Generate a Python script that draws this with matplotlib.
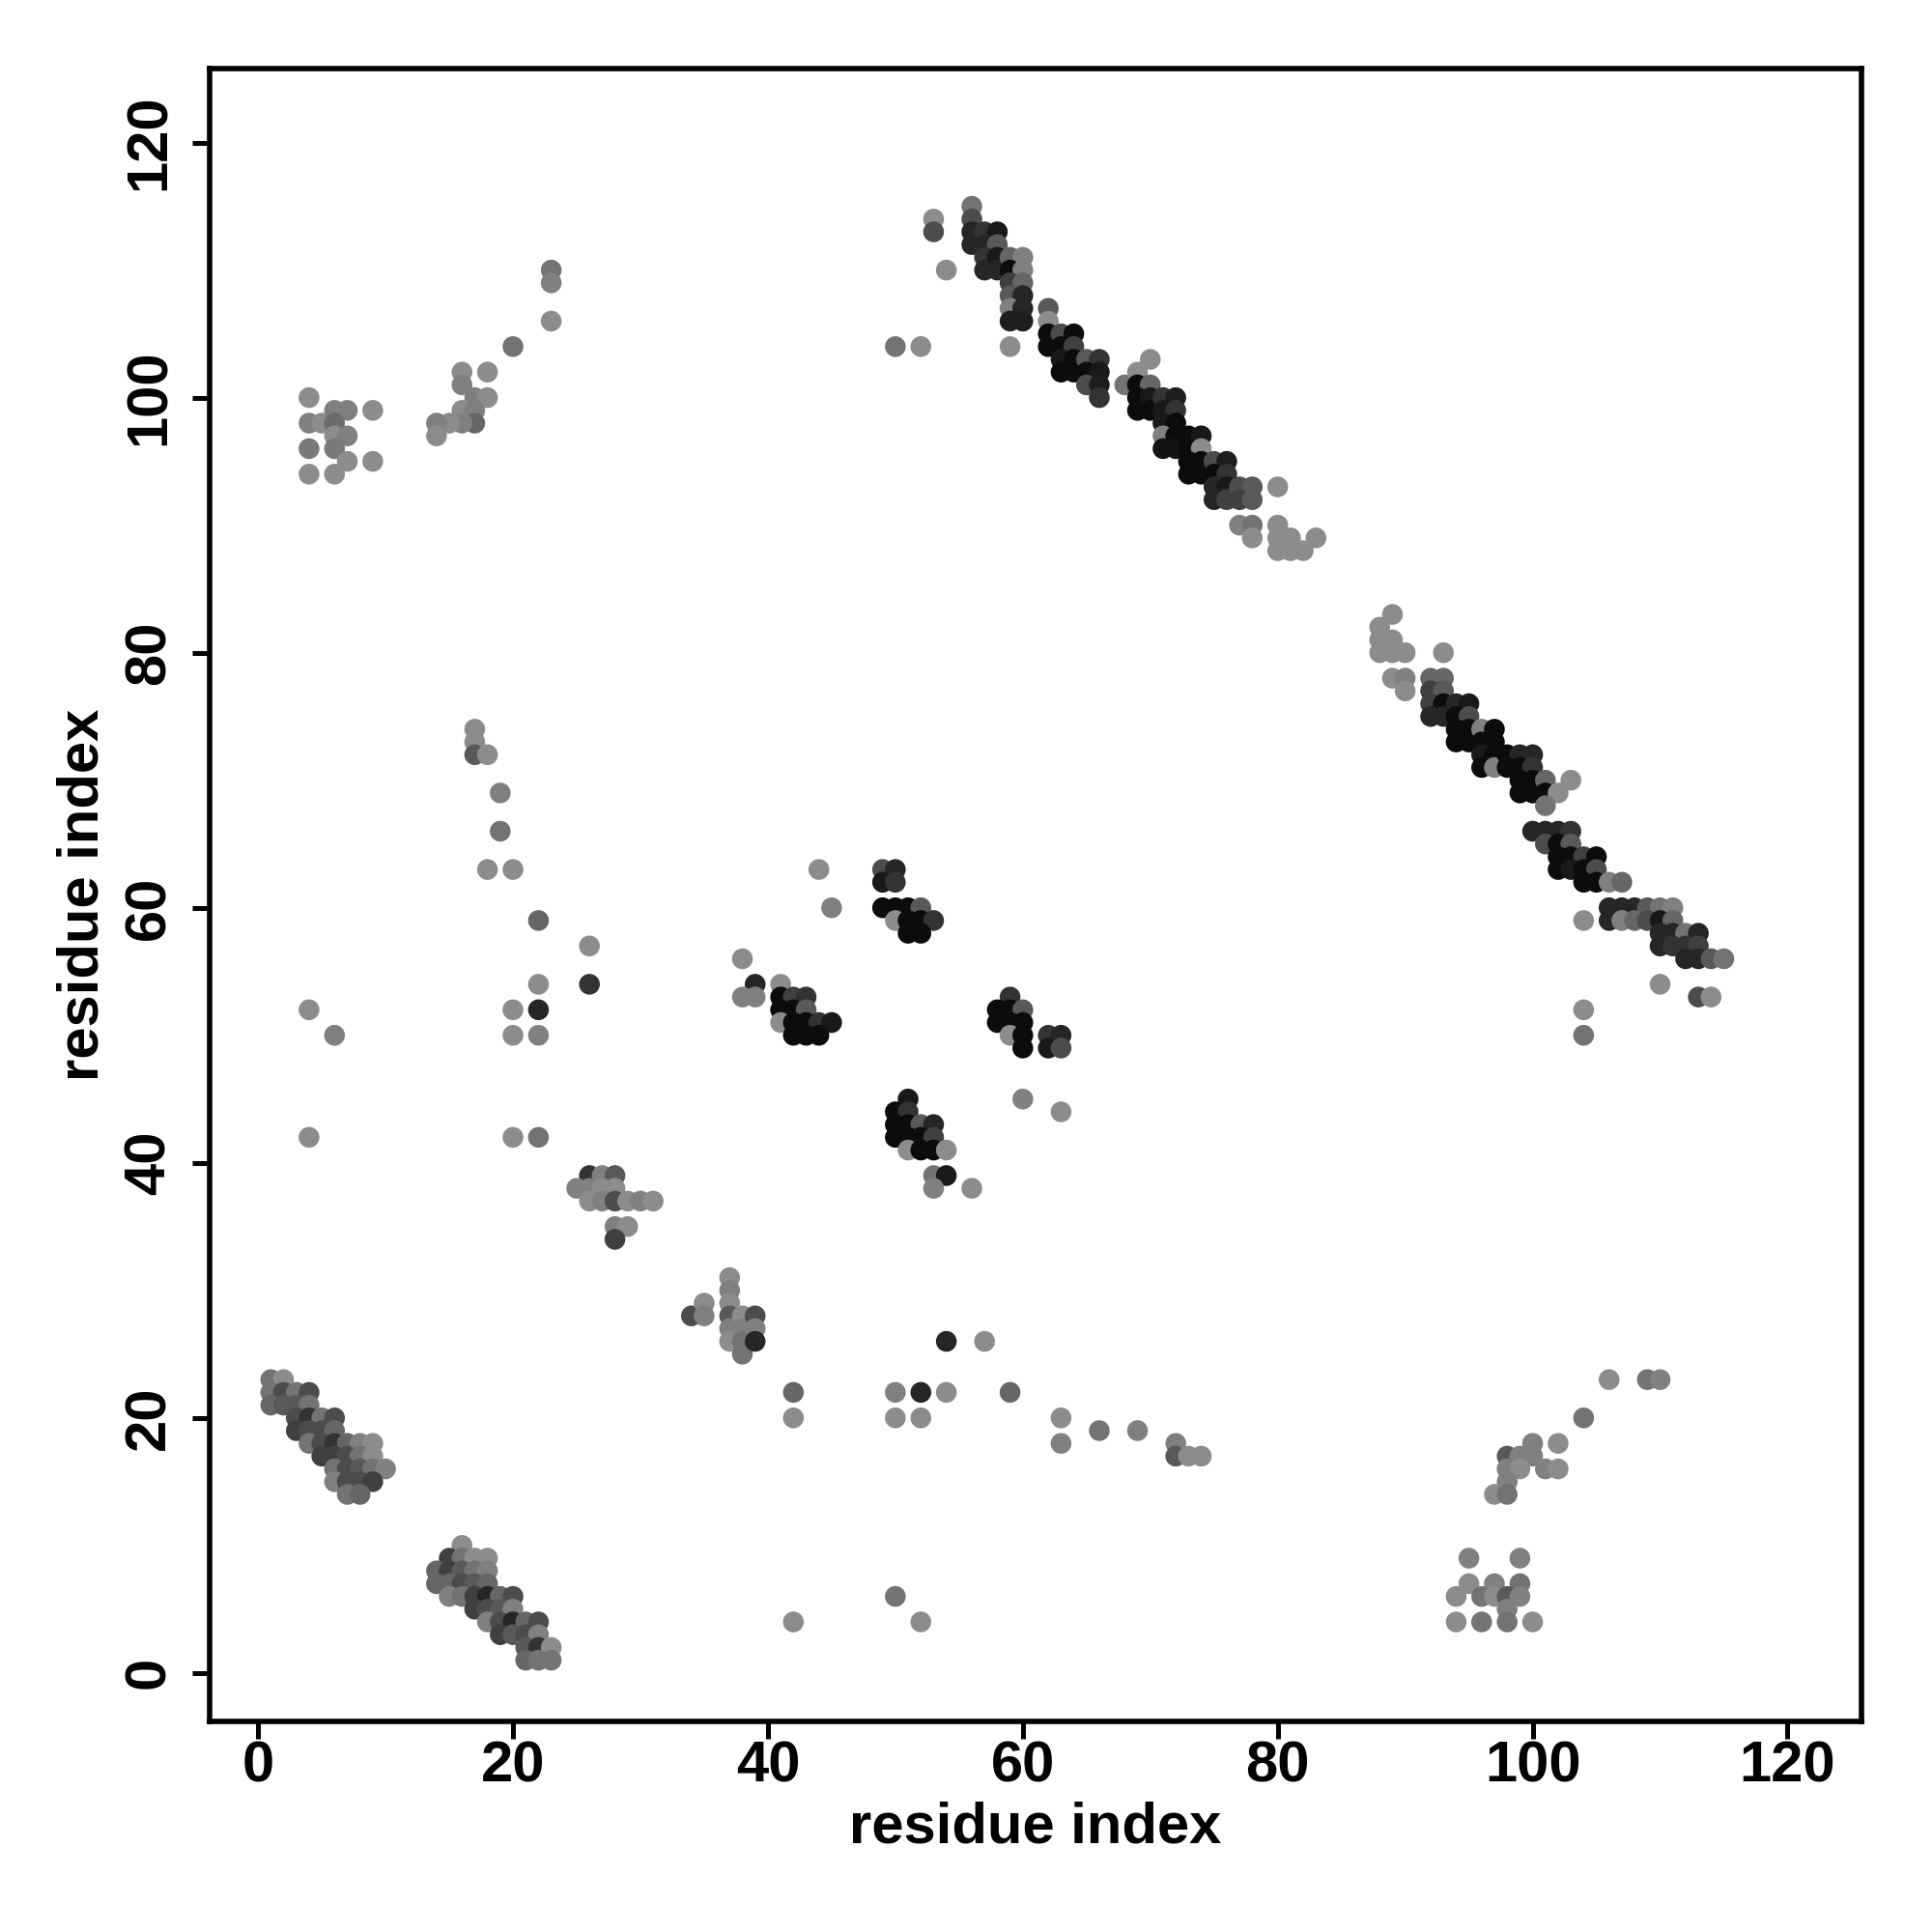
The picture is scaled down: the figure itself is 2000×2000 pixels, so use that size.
import matplotlib
matplotlib.use("Agg")
import matplotlib.pyplot as plt
import numpy as np

plt.rcParams['font.family'] = ['Liberation Sans', 'DejaVu Sans']
plt.rcParams['font.weight'] = 'bold'

# contact map: residue i, residue j, shade (0 = black, 1 = white)
# upper-left block
blk_a = [(4,100,.55),(4,98,.5),(5,98,.55),(6,99,.5),(7,99,.5),(6,98,.42),(6,97,.55),(7,97,.5),
         (4,96,.48),(6,96,.48),(7,95,.55),(4,94,.55),(6,94,.55),(9,99,.55),(9,95,.55)]
blk_b = [(23,110,.45),(23,109,.5),(23,106,.55),(20,104,.45),(16,102,.55),(16,101,.5),(18,102,.55),
         (17,100,.5),(18,100,.55),(16,99,.55),(17,99,.5),(17,98,.4),(16,98,.5),(15,98,.55),(14,98,.5),(14,97,.55)]
# top anti-diagonal strand pairing
blk_c = [(53,114,.55),(53,113,.3),(54,110,.55),(56,115,.45),(56,114,.3),(56,113,.15),(56,112,.15),
         (57,113,.2),(58,113,.1),(57,112,.15),(58,112,.35),(57,111,.2),(57,110,.15),(58,111,.1),(58,110,.15),
         (59,111,.4),(60,111,.5),(59,110,.05),(60,110,.5),(59,109,.25),(60,109,.4),(59,108,.35),(60,108,.15),
         (59,107,.5),(60,107,.15),(59,106,.12),(60,106,.12),(50,104,.45),(52,104,.55),(59,104,.55),
         (62,107,.35),(62,106,.55),(62,105,.05),(62,104,.05),(63,105,.3),(64,105,.05),(63,104,.05),(64,104,.25),
         (63,103,.1),(64,103,.05),(63,102,.05),(64,102,.05),(65,103,.35),(66,103,.2),(65,102,.05),(66,102,.1),
         (65,101,.3),(66,101,.12),(66,100,.2),
         (68,101,.45),(69,102,.55),(70,103,.55),(69,101,.05),(70,101,.4),(69,100,.05),(69,99,.05),(70,100,.1),
         (70,99,.05),(71,100,.2),(72,100,.12),(71,99,.1),(72,99,.2),(71,98,.1),(72,98,.05),(71,97,.5),(72,97,.05),
         (71,96,.08),(72,96,.08),(73,97,.05),(74,97,.1),(73,96,.05),(74,96,.55),(73,95,.05),(74,95,.05),
         (73,94,.05),(74,94,.05),(75,95,.3),(76,95,.12),(75,94,.05),(76,94,.2),(75,93,.15),(76,93,.1),
         (75,92,.15),(76,92,.25),(77,93,.3),(78,93,.35),(77,92,.25),(78,92,.35),(80,93,.55),
         (77,90,.5),(78,90,.45),(78,89,.55),(80,90,.55),(80,89,.55),(80,88,.55),(81,89,.55),(81,88,.55),
         (82,88,.55),(83,89,.55)]
blk_d = [(89,83,.55),(88,82,.55),(88,81,.55),(89,81,.55),(88,80,.55),(89,80,.55),(90,80,.55),(93,80,.55),
         (89,78,.55),(90,78,.5),(90,77,.55),
         (92,78,.4),(93,78,.4),(92,77,.25),(93,77,.35),(92,76,.25),(93,76,.05),(92,75,.15),(93,75,.15),
         (94,76,.15),(95,76,.1),(94,75,.05),(95,75,.3),(94,74,.05),(94,73,.05),(95,74,.05),(95,73,.05),
         (96,74,.5),(97,74,.05),(96,73,.05),(97,73,.05),(96,72,.1),(97,72,.05),(96,71,.05),(97,71,.5),
         (98,72,.05),(99,72,.15),(100,72,.15),(98,71,.05),(99,71,.05),(100,71,.2),(99,70,.05),(100,70,.05),
         (99,69,.05),(100,69,.05),(101,70,.4),(103,70,.55),(101,69,.05),(102,69,.55),(101,68,.45),
         (100,66,.15),(101,66,.15),(102,66,.15),(103,66,.2),(101,65,.3),(102,65,.05),(103,65,.35),
         (102,64,.05),(103,64,.05),(104,64,.25),(105,64,.05),(102,63,.05),(103,63,.1),(104,63,.05),(105,63,.3),
         (104,62,.05),(105,62,.05),(106,62,.5),(107,62,.4),
         (106,60,.15),(107,60,.15),(108,60,.15),(109,60,.35),(110,60,.45),(111,60,.5),(106,59,.15),
         (107,59,.5),(108,59,.4),(109,59,.3),(110,59,.1),(111,59,.4),(104,59,.55),(110,58,.15),(111,58,.15),
         (112,58,.45),(113,58,.15),(110,57,.15),(111,57,.2),(112,57,.2),(113,57,.25),(112,56,.15),(113,56,.15),
         (114,56,.35),(115,56,.45),(110,54,.55),(113,53,.3),(114,53,.55),(104,52,.55),(104,50,.45)]
# scattered middle contacts
blk_e = [(17,74,.55),(17,73,.55),(17,72,.35),(18,72,.55),(19,69,.5),(19,66,.45),(18,63,.55),(20,63,.55),
         (22,59,.4),(26,57,.55),(26,54,.2),(22,54,.55),(20,52,.55),(22,52,.15),(20,50,.55),(22,50,.5),
         (4,52,.55),(6,50,.5),(4,42,.55),(20,42,.55),(22,42,.45)]
blk_f = [(26,39,.2),(27,39,.5),(28,39,.35),(25,38,.5),(26,38,.5),(27,38,.55),(28,38,.55),(26,37,.55),
         (27,37,.5),(28,37,.3),(29,37,.55),(30,37,.5),(31,37,.55),(28,35,.5),(29,35,.55),(28,34,.25)]
blk_g = [(38,56,.55),(39,54,.15),(38,53,.5),(39,53,.5),(41,54,.55),(41,53,.05),(42,53,.25),(43,53,.2),
         (41,52,.05),(42,52,.05),(43,52,.35),(41,51,.55),(42,51,.05),(43,51,.05),(44,51,.2),(45,51,.1),
         (42,50,.05),(43,50,.05),(44,50,.05),(44,63,.55),(45,60,.5),
         (49,63,.3),(50,63,.15),(49,62,.1),(50,62,.2),(49,60,.05),(50,60,.05),(51,60,.05),(52,60,.35),
         (50,59,.55),(51,59,.05),(52,59,.05),(53,59,.2),(51,58,.05),(52,58,.05),
         (59,53,.2),(58,52,.05),(59,52,.05),(60,52,.35),(58,51,.05),(59,51,.05),(60,51,.05),(59,50,.55),
         (60,50,.05),(60,49,.05),(62,50,.2),(63,50,.15),(62,49,.1),(63,49,.3),(60,45,.5),(63,44,.55),
         (51,45,.1),(50,44,.05),(51,44,.2),(50,43,.05),(51,43,.05),(52,43,.35),(53,43,.15),(50,42,.05),
         (51,42,.05),(52,42,.05),(53,42,.25),(51,41,.55),(52,41,.05),(53,41,.05),(54,41,.55),(53,39,.45),
         (54,39,.1),(53,38,.5),(56,38,.55)]
# lower-left helices
blk_h = [(1,23,.45),(2,23,.55),(1,22,.45),(2,22,.3),(3,22,.45),(4,22,.3),(1,21,.4),(2,21,.35),(3,21,.35),
         (4,21,.45),(3,20,.3),(4,20,.2),(5,20,.45),(6,20,.3),(3,19,.25),(4,19,.3),(5,19,.3),(6,19,.4),
         (4,18,.45),(5,18,.3),(6,18,.2),(7,18,.4),(8,18,.5),(9,18,.55),(5,17,.25),(6,17,.25),(7,17,.3),
         (8,17,.45),(9,17,.55),(6,16,.45),(7,16,.3),(8,16,.35),(9,16,.45),(10,16,.5),(6,15,.5),(7,15,.3),
         (8,15,.3),(9,15,.25),(7,14,.45),(8,14,.4)]
blk_i = [(16,10,.55),(15,9,.25),(16,9,.45),(17,9,.55),(18,9,.55),(14,8,.4),(15,8,.25),(16,8,.35),(17,8,.45),
         (18,8,.5),(14,7,.4),(15,7,.4),(16,7,.3),(17,7,.35),(18,7,.4),(15,6,.5),(16,6,.45),(17,6,.25),
         (18,6,.15),(19,6,.4),(20,6,.3),(17,5,.25),(18,5,.3),(19,5,.35),(20,5,.5),(18,4,.5),(19,4,.3),
         (20,4,.15),(21,4,.4),(22,4,.3),(19,3,.25),(20,3,.35),(21,3,.3),(22,3,.5),(21,2,.35),(22,2,.2),
         (23,2,.55),(21,1,.4),(22,1,.45),(23,1,.45)]
blk_j = [(34,28,.3),(35,29,.55),(35,28,.5),(37,31,.55),(37,30,.5),(37,29,.55),(37,28,.35),(37,27,.5),
         (37,26,.55),(38,28,.55),(38,27,.5),(38,26,.45),(38,25,.45),(39,28,.3),(39,27,.5),(39,26,.15),
         (42,22,.4),(42,20,.55),(50,22,.5),(52,22,.15),(54,22,.55),(50,20,.55),(52,20,.55),(54,26,.15),
         (57,26,.55),(59,22,.4),(63,20,.55),(63,18,.5),(66,19,.45),(69,19,.5),(72,18,.5),(72,17,.35),
         (73,17,.55),(74,17,.55),(42,4,.55),(50,6,.45),(52,4,.55)]
# lower-right block
blk_k = [(106,23,.55),(109,23,.45),(110,23,.5),(104,20,.45),(100,18,.5),(102,18,.55),(98,17,.35),
         (99,17,.5),(100,17,.5),(98,16,.5),(99,16,.55),(101,16,.5),(102,16,.55),(98,15,.5),(97,14,.55),
         (98,14,.45),(95,9,.5),(99,9,.5),(95,7,.55),(97,7,.5),(99,7,.45),(94,6,.55),(96,6,.45),(97,6,.55),
         (98,6,.35),(99,6,.5),(98,5,.5),(94,4,.55),(96,4,.45),(98,4,.45),(100,4,.55)]

blocks = [blk_a, blk_b, blk_c, blk_d, blk_e, blk_f, blk_g, blk_h, blk_i, blk_j, blk_k]
pts = np.array([p for b in blocks for p in b])

fig = plt.figure(figsize=(10, 10), dpi=200)
ax = fig.add_axes([0.1085, 0.109, 0.855, 0.8555])
ax.scatter(pts[:, 0], pts[:, 1], c=pts[:, 2], cmap='gray', vmin=0, vmax=1,
           s=60, linewidths=0)

ax.set_xlim(-3.8, 125.8)
ax.set_ylim(-3.8, 125.8)
ticks = [0, 20, 40, 60, 80, 100, 120]
ax.set_xticks(ticks)
ax.set_yticks(ticks)
ax.tick_params(axis='both', length=6.5, width=1.8, labelsize=21.5)
ax.tick_params(axis='x', pad=0.5)
ax.tick_params(axis='y', pad=6)
for lab in ax.get_yticklabels():
    lab.set_rotation(90)
    lab.set_va('center')
for s in ax.spines.values():
    s.set_linewidth(2.0)

ax.set_xlabel("residue index", fontsize=21.5, fontweight='bold', labelpad=3)
ax.set_ylabel("residue index", fontsize=21.5, fontweight='bold', labelpad=5)

fig.savefig("out.png", dpi=200)
